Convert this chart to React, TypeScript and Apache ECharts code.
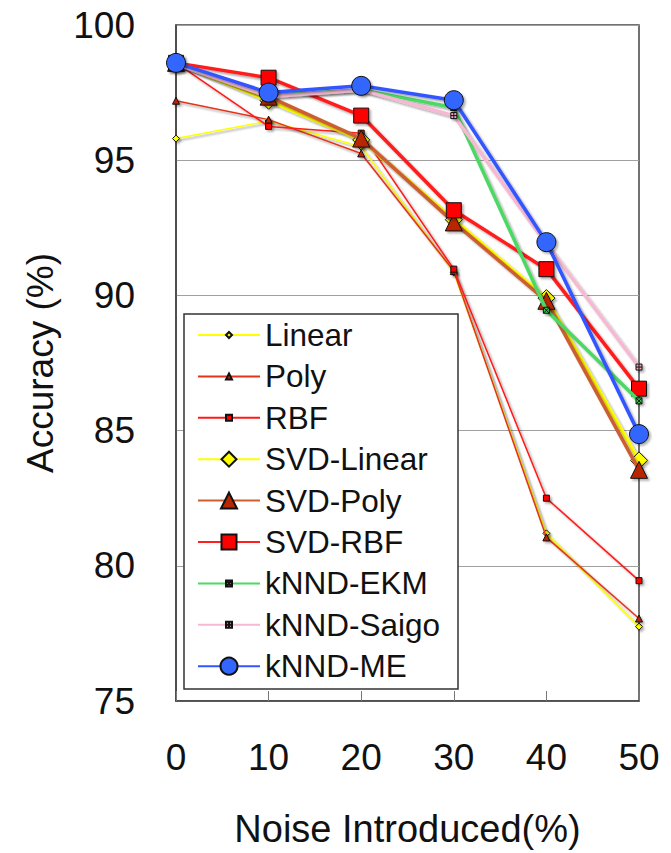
import React, { useEffect, useRef } from "react";
import * as echarts from "echarts";

// ---- data ----
const noiseLevels = [0, 10, 20, 30, 40, 50];
const yMin = 75;
const yMax = 100;
const yStep = 5;
const seriesNames = [
  "Linear",
  "Poly",
  "RBF",
  "SVD-Linear",
  "SVD-Poly",
  "SVD-RBF",
  "kNND-EKM",
  "kNND-Saigo",
  "kNND-ME",
];
const linearAcc = [95.8, 96.45, 95.5, 90.85, 81.2, 77.75];
const polyAcc = [97.2, 96.5, 95.25, 90.9, 81.05, 78.05];
const rbfAcc = [98.6, 96.25, 96.0, 90.97, 82.5, 79.45];
const svdLinearAcc = [98.6, 97.2, 95.75, 92.8, 89.9, 83.9];
const svdPolyAcc = [98.6, 97.35, 95.8, 92.7, 89.8, 83.55];
const svdRbfAcc = [98.6, 98.05, 96.65, 93.15, 90.97, 86.55];
const knndEkmAcc = [98.6, 97.4, 97.6, 96.95, 89.45, 86.1];
const knndSaigoAcc = [98.55, 97.35, 97.6, 96.65, 91.9, 87.35];
const knndMeAcc = [98.6, 97.5, 97.75, 97.22, 91.97, 84.87];
const allAcc = [
  linearAcc,
  polyAcc,
  rbfAcc,
  svdLinearAcc,
  svdPolyAcc,
  svdRbfAcc,
  knndEkmAcc,
  knndSaigoAcc,
  knndMeAcc,
];

// ---- styles ----
const FONT = "'Liberation Sans', Arial, Helvetica, sans-serif";
const X_MARK = "path://M0,0H10V10H0Z M0,0L10,10 M10,0L0,10";
const PLUS_MARK = "path://M0,0H10V10H0Z M5,0V10 M0,5H10";
const styles = [
  { line: "#ffff00", width: 1.5, symbol: "diamond", size: 7, fill: "#ffff00", legendSize: 6 },
  { line: "#e3341a", width: 1.5, symbol: "triangle", size: 7, fill: "#c02200", legendSize: 6 },
  { line: "#ff1a1a", width: 1.5, symbol: "rect", size: 6, fill: "#ff0000", legendSize: 6 },
  { line: "#ffff00", width: 3.5, symbol: "diamond", size: 17, fill: "#ffff00", legendSize: 15 },
  { line: "#cc5e30", width: 3.5, symbol: "triangle", size: 17, fill: "#b82800", legendSize: 16 },
  { line: "#ff1f1f", width: 3.5, symbol: "rect", size: 15, fill: "#ff0000", legendSize: 15 },
  { line: "#4cd964", width: 3.5, symbol: X_MARK, size: 6, fill: "#2ecc40", legendSize: 6 },
  { line: "#f6b8d2", width: 3.5, symbol: PLUS_MARK, size: 6, fill: "#f0a0c0", legendSize: 6 },
  { line: "#3355ff", width: 3.5, symbol: "circle", size: 19, fill: "#3366ff", legendSize: 17 },
];

export default function App() {
  const ref = useRef<HTMLDivElement>(null);

  useEffect(() => {
    document.body.style.margin = "0";
    if (!ref.current) return;
    const chart = echarts.init(ref.current, null, { renderer: "svg" });

    const series = seriesNames.map((name, i) => {
      const st = styles[i];
      return {
        name,
        type: "line",
        data: noiseLevels.map((x, j) => [x, allAcc[i][j]]),
        symbol: st.symbol,
        symbolSize: st.size,
        showSymbol: true,
        lineStyle: {
          color: st.line,
          width: st.width,
          shadowColor: "rgba(0,0,0,0.35)",
          shadowBlur: 2,
          shadowOffsetX: 2,
          shadowOffsetY: 2,
        },
        itemStyle: {
          color: st.fill,
          borderColor: "#111",
          borderWidth: 1,
          shadowColor: "rgba(0,0,0,0.3)",
          shadowBlur: 2,
          shadowOffsetX: 2,
          shadowOffsetY: 2,
        },
        z: 2 + i * 0.01,
      };
    });

    const legends = seriesNames.map((name, i) => ({
      data: [name],
      orient: "horizontal",
      left: 197,
      top: 335 + i * 41.4 - 17,
      padding: 0,
      itemGap: 0,
      itemWidth: 62,
      itemHeight: styles[i].legendSize / 0.8,
      selectedMode: false,
      textStyle: {
        fontSize: 31.5,
        lineHeight: 34,
        fontFamily: FONT,
        color: "#111",
      },
      lineStyle: {
        shadowColor: "rgba(0,0,0,0)",
        shadowBlur: 0,
        shadowOffsetX: 0,
        shadowOffsetY: 0,
      },
      itemStyle: {
        shadowColor: "rgba(0,0,0,0)",
        shadowBlur: 0,
        shadowOffsetX: 0,
        shadowOffsetY: 0,
      },
      z: 5,
    }));

    chart.setOption({
      animation: false,
      backgroundColor: "#fff",
      grid: {
        left: 176,
        top: 25,
        right: 32,
        bottom: 149,
        show: true,
        borderColor: "#444",
        borderWidth: 1.5,
        backgroundColor: "#fff",
      },
      xAxis: {
        type: "value",
        min: noiseLevels[0],
        max: noiseLevels[noiseLevels.length - 1],
        interval: 10,
        name: "Noise Introduced(%)",
        nameLocation: "middle",
        nameGap: 109,
        nameTextStyle: { fontSize: 38, fontFamily: FONT, color: "#111" },
        axisLine: { show: true, lineStyle: { color: "#444", width: 1.5 } },
        axisTick: { show: true, inside: true, length: 10, lineStyle: { color: "#777" } },
        axisLabel: { fontSize: 37, fontFamily: FONT, color: "#111", margin: 38 },
        splitLine: { show: false },
      },
      yAxis: {
        type: "value",
        min: yMin,
        max: yMax,
        interval: yStep,
        name: "Accuracy (%)",
        nameLocation: "middle",
        nameGap: 117,
        nameTextStyle: { fontSize: 37, fontFamily: FONT, color: "#111" },
        axisLine: { show: true, lineStyle: { color: "#444", width: 1.5 } },
        axisTick: { show: false },
        axisLabel: { fontSize: 37, fontFamily: FONT, color: "#111", margin: 41 },
        splitLine: { show: true, lineStyle: { color: "#a0a0a0", width: 1 } },
      },
      legend: legends,
      graphic: [
        {
          type: "rect",
          z: 4,
          shape: { x: 184, y: 314, width: 274, height: 375 },
          style: { fill: "#fff", stroke: "#333", lineWidth: 1.5 },
        },
      ],
      series,
    });

    return () => chart.dispose();
  }, []);

  return <div ref={ref} style={{ width: 671, height: 853 }} />;
}
